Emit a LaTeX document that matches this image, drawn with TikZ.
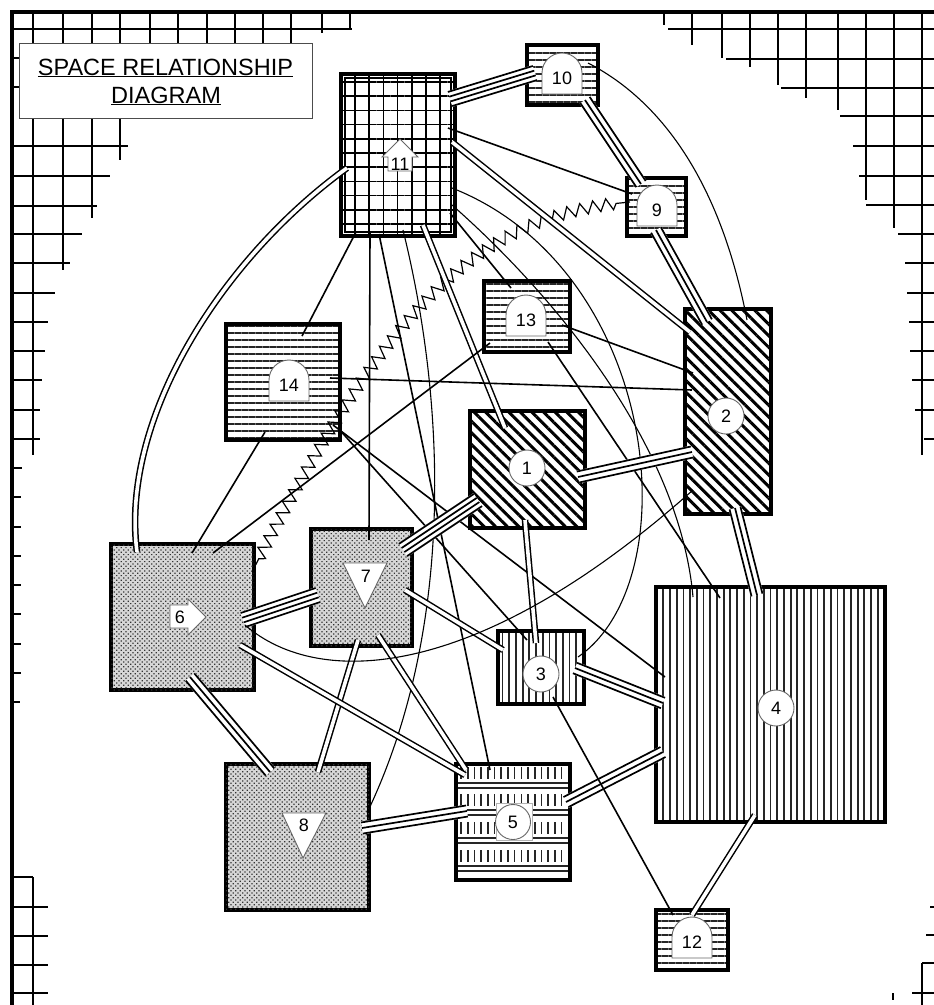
\documentclass[tikz,border=0pt]{standalone}
\usepackage{fontspec}
\setmainfont{Liberation Sans}
\usetikzlibrary{patterns.meta,decorations.pathmorphing,calc}
\newcommand\cp[5]{([shift={(#4-#2,#5-#3)}]#1.north west)}
\tikzset{
  box/.style={draw=black, inner sep=0pt, outer sep=0pt, anchor=north west},
  room/.style={box, #1, line width=3.2pt},
  hlines/.style={pattern={Lines[angle=0,distance=7pt,line width=1.6pt]}, pattern color=black!85},
  vlines/.style={pattern={Lines[angle=90,distance=6.7pt,line width=1.8pt]}, pattern color=black!85},
  dlines/.style={pattern={Lines[angle=-45,distance=8.2pt,line width=3pt]}, pattern color=black},
  gridpat/.style={pattern={Hatch[angle=0,distance=14.2pt,line width=1.6pt]}, pattern color=black},
  dotpat/.style={fill=black!16, postaction={pattern={Dots[angle=45,distance=3.3pt,radius=0.85pt]}, pattern color=black!80}},
  single/.style={line width=1.6pt},
  thinc/.style={line width=1.1pt},
  dbl/.style={double, double distance=3.6pt, line width=1.5pt},
  mline/.style={line width=1.7pt, line cap=butt},
  mband/.style={white, line width=#1, line cap=butt},
  zz/.style={decorate, decoration={zigzag, segment length=13pt, amplitude=6pt, pre length=14pt, post length=10pt}, line width=1.2pt},
  gridline/.style={line width=1.4pt},
  lab/.style={font=\fontsize{18}{20}\selectfont, inner sep=0pt},
  labshape/.style={fill=white, draw=black!60, line width=0.9pt},
}
\newcommand\mlines[4]{%
  \draw[mband=#1] (#3) -- (#4);
  \foreach \oo in {#2} {\draw[mline] ($(#3)!\oo pt!90:(#4)$) -- ($(#4)!\oo pt!-90:(#3)$);}}
\newcommand\tri[2]{\mlines{13pt}{-5.6,0,5.6}{#1}{#2}}
\newcommand\qua[2]{\mlines{16.4pt}{-7.35,-2.45,2.45,7.35}{#1}{#2}}
\newcommand\archlab[4]{%
  \path[labshape] (#2-20,#3+41) -- (#2-20,#3+20) arc[start angle=180,end angle=0,radius=20pt] -- (#2+20,#3+41) -- cycle;
  \node[lab] (#1) at (#2,#3+25) {#4};}
\begin{document}
\begin{tikzpicture}[x=1pt,y=-1pt]
\useasboundingbox (0,0) rectangle (934,1005);
% ---- corner grids
\foreach \x/\ya/\yb in {33/13/455, 63/13/270, 92/13/218, 120/13/160, 150/13/100, 178/13/100, 207/13/100, 235/13/100, 263/13/100, 291/13/100, 322/13/33, 350/13/28,
  664/13/25, 692/13/45, 722/13/58, 750/13/67, 778/13/85, 806/13/98, 838/13/110, 866/13/200, 894/13/228, 922/13/455,
  922/963/1005, 33/877/1005, 893/993/1000}
  \draw[gridline] (\x,\ya) -- (\x,\yb);
\foreach \y/\xa/\xb in {29/12/352, 58/12/300, 87/12/300, 146/12/128, 176/12/110, 206/12/97, 234/12/82, 263/12/70, 293/12/55, 322/12/48, 351/12/45, 380/12/42, 410/12/40, 439/12/40,
  468/12/22, 497/12/21, 527/12/21, 556/12/21, 585/12/21, 614/12/21, 644/12/21, 673/12/21, 702/12/20,
  877/12/33, 907/12/48, 936/12/48, 965/12/48, 993/12/48,
  29/668/934, 59/726/934, 88/781/934, 116/840/934, 146/853/934, 176/859/934, 205/866/934, 234/898/934, 263/905/934, 293/907/934, 322/909/934, 351/910/934, 380/912/934, 410/915/934, 439/924/934,
  907/930/934, 935/926/934, 963/922/934, 993/912/934}
  \draw[gridline] (\xa,\y) -- (\xb,\y);
\draw[line width=4pt] (11.5,1005) -- (11.5,11.5) -- (934,11.5);
% ---- title
\node[draw=black!70, fill=white, line width=1pt, inner sep=0pt, outer sep=0pt, anchor=north west, minimum width=293pt, minimum height=75pt] (title) at (19,43) {};
\node[anchor=base, font=\fontsize{23.5}{28}\selectfont, inner sep=0pt] (t1) at (165.5,75) {\underline{SPACE RELATIONSHIP}};
\node[anchor=base, font=\fontsize{23.5}{28}\selectfont, inner sep=0pt] (t2) at (166,103) {\underline{DIAGRAM}};
% ---- rooms
\node[room=gridpat, minimum width=114pt, minimum height=162pt] (n11) at (341,74) {};
\draw[line width=1.2pt] ([shift={(4,4)}]n11.north west) rectangle ([shift={(-4,-4)}]n11.south east);
\node[room=hlines, minimum width=71pt, minimum height=60pt] (n10) at (527,45) {};
\node[room=hlines, minimum width=59pt, minimum height=58pt] (n9) at (627,178) {};
\node[room=hlines, minimum width=86pt, minimum height=71pt] (n13) at (484,281) {};
\node[room=hlines, minimum width=114pt, minimum height=116pt] (n14) at (226,324) {};
\node[room=dlines, minimum width=86pt, minimum height=205pt] (n2) at (685,309) {};
\node[room=dlines, minimum width=115pt, minimum height=117pt] (n1) at (470,411) {};
\node[room=dotpat, minimum width=143pt, minimum height=146pt] (n6) at (111,544) {};
\node[room=dotpat, minimum width=101pt, minimum height=117pt] (n7) at (311,529) {};
\node[room=vlines, minimum width=86pt, minimum height=73pt] (n3) at (498,631) {};
\node[room=vlines, minimum width=229pt, minimum height=235pt] (n4) at (656,587) {};
\node[room=dotpat, minimum width=143pt, minimum height=146pt] (n8) at (226,764) {};
\node[room={fill=white}, minimum width=114pt, minimum height=116pt] (n5) at (456,764) {};
\foreach \yy in {767,794,822,850} {
  \foreach \xx in {461,467.7,...,566} \draw[line width=1.6pt, black!85] (\xx,\yy) -- (\xx,\yy+12);
  \draw[line width=1.5pt, black!85] (457,\yy+16) -- (569,\yy+16) (457,\yy+21) -- (569,\yy+21);
}
\draw[line width=3.2pt] (n5.north west) rectangle (n5.south east);
\node[room=hlines, minimum width=72pt, minimum height=60pt] (n12) at (656,910) {};
% ---- end points of the multi-line links
\coordinate (q1a) at ([shift={(450-341,99-74)}]n11.north west);
\coordinate (q1b) at ([shift={(535-527,73-45)}]n10.north west);
\coordinate (q2a) at ([shift={(403-311,550-529)}]n7.north west);
\coordinate (q2b) at ([shift={(478-470,500-411)}]n1.north west);
\coordinate (q3a) at ([shift={(243-111,620-544)}]n6.north west);
\coordinate (q3b) at ([shift={(318-311,595-529)}]n7.north west);
\coordinate (t1a) at ([shift={(585-527,100-45)}]n10.north west);
\coordinate (t1b) at ([shift={(641-627,184-178)}]n9.north west);
\coordinate (t2a) at ([shift={(656-627,230-178)}]n9.north west);
\coordinate (t2b) at ([shift={(707-685,322-309)}]n2.north west);
\coordinate (t3a) at ([shift={(578-470,477-411)}]n1.north west);
\coordinate (t3b) at ([shift={(692-685,452-309)}]n2.north west);
\coordinate (t4a) at ([shift={(735-685,508-309)}]n2.north west);
\coordinate (t4b) at ([shift={(757-656,595-587)}]n4.north west);
\coordinate (t5a) at ([shift={(575-498,668-631)}]n3.north west);
\coordinate (t5b) at ([shift={(663-656,703-587)}]n4.north west);
\coordinate (t6a) at ([shift={(566-456,802-764)}]n5.north west);
\coordinate (t6b) at ([shift={(663-656,752-587)}]n4.north west);
\coordinate (t7a) at ([shift={(190-111,677-544)}]n6.north west);
\coordinate (t7b) at ([shift={(270-226,772-764)}]n8.north west);
\coordinate (t8a) at ([shift={(362-226,828-764)}]n8.north west);
\coordinate (t8b) at ([shift={(467-456,811-764)}]n5.north west);
% ---- connectors
\qua{q1a}{q1b}
\tri{t1a}{t1b}
\draw[thinc] \cp{n10}{527}{45}{588}{63} .. controls (660,100) and (720,180) .. \cp{n2}{685}{309}{747}{320};
\draw[single] \cp{n11}{341}{74}{448}{128} -- \cp{n9}{627}{178}{632}{194};
\draw[zz] \cp{n9}{627}{178}{630}{202} .. controls (480,215) and (390,300) .. \cp{n6}{111}{544}{252}{572};
\tri{t2a}{t2b}
\draw[dbl] \cp{n11}{341}{74}{452}{142} -- \cp{n2}{685}{309}{690}{332};
\draw[single] \cp{n11}{341}{74}{450}{213} -- \cp{n13}{484}{281}{511}{288};
\draw[thinc] \cp{n11}{341}{74}{452}{188} .. controls (660,270) and (690,580) .. \cp{n3}{498}{631}{578}{657};
\draw[thinc] \cp{n11}{341}{74}{452}{205} .. controls (560,300) and (680,450) .. \cp{n4}{656}{587}{693}{597};
\draw[dbl] \cp{n11}{341}{74}{347}{168} .. controls (220,260) and (120,420) .. \cp{n6}{111}{544}{137}{552};
\draw[single] \cp{n11}{341}{74}{356}{232} -- \cp{n14}{226}{324}{302}{336};
\draw[single] \cp{n11}{341}{74}{370}{232} -- \cp{n7}{311}{529}{369}{540};
\draw[single] \cp{n11}{341}{74}{379}{234} -- \cp{n5}{456}{764}{490}{770};
\draw[thinc] \cp{n11}{341}{74}{403}{230} .. controls (450,420) and (450,640) .. \cp{n8}{226}{764}{367}{813};
\draw[dbl] \cp{n11}{341}{74}{423}{225} -- \cp{n1}{470}{411}{505}{428};
\draw[single] \cp{n14}{226}{324}{265}{432} -- \cp{n6}{111}{544}{192}{553};
\draw[single] \cp{n14}{226}{324}{330}{378} -- \cp{n2}{685}{309}{692}{390};
\draw[single] \cp{n14}{226}{324}{333}{425} -- \cp{n4}{656}{587}{665}{677};
\draw[single] \cp{n14}{226}{324}{338}{428} -- \cp{n3}{498}{631}{527}{640};
\draw[single] \cp{n13}{484}{281}{490}{343} -- \cp{n6}{111}{544}{213}{553};
\draw[single] \cp{n13}{484}{281}{562}{325} -- \cp{n2}{685}{309}{693}{373};
\draw[single] \cp{n13}{484}{281}{548}{342} -- \cp{n4}{656}{587}{720}{598};
\tri{t3a}{t3b}
\draw[dbl] \cp{n1}{470}{411}{525}{520} -- \cp{n3}{498}{631}{536}{643};
\qua{q2a}{q2b}
\tri{t4a}{t4b}
\tri{t5a}{t5b}
\tri{t6a}{t6b}
\draw[dbl] \cp{n4}{656}{587}{755}{815} -- \cp{n12}{656}{910}{692}{915};
\draw[single] \cp{n3}{498}{631}{553}{697} -- \cp{n12}{656}{910}{673}{915};
\qua{q3a}{q3b}
\tri{t7a}{t7b}
\draw[dbl] \cp{n7}{311}{529}{358}{640} -- \cp{n8}{226}{764}{318}{772};
\draw[dbl] \cp{n7}{311}{529}{378}{635} -- \cp{n5}{456}{764}{466}{770};
\draw[dbl] \cp{n6}{111}{544}{240}{645} -- \cp{n5}{456}{764}{465}{775};
\draw[dbl] \cp{n7}{311}{529}{405}{590} -- \cp{n3}{498}{631}{503}{650};
\tri{t8a}{t8b}
\draw[thinc] \cp{n6}{111}{544}{245}{625} .. controls (320,690) and (480,680) .. \cp{n2}{685}{309}{693}{490};
% ---- labels
\path[labshape] (388,171) -- (388,157) -- (382,157) -- (400,139) -- (418,157) -- (412,157) -- (412,171) -- cycle;
\node[lab] (c11) at (400,164.5) {11};
\archlab{c10}{562}{53}{10}
\archlab{c9}{657}{185}{9}
\archlab{c13}{526}{295}{13}
\archlab{c14}{289}{360}{14}
\archlab{c12}{692}{917}{12}
\node[circle, labshape, minimum size=36pt, lab] (c1) at (527,468) {1};
\node[circle, labshape, minimum size=36pt, lab] (c2) at (726,416) {2};
\node[circle, labshape, minimum size=36pt, lab] (c3) at (541,674) {3};
\node[circle, labshape, minimum size=36pt, lab] (c4) at (776,708) {4};
\path[fill=white, draw=black!30, line width=0.8pt] (496,803) rectangle (532,840);
\node[circle, labshape, minimum size=35pt, lab] (c5) at (513,822) {5};
\path[labshape] (343,563) -- (387,563) -- (365,608) -- cycle;
\node[lab] (c7) at (366,576) {7};
\path[labshape] (282,813) -- (326,813) -- (303,858) -- cycle;
\node[lab] (c8) at (304,825) {8};
\path[labshape] (170,605) -- (188,605) -- (188,599) -- (206,617) -- (188,635) -- (188,628) -- (170,628) -- cycle;
\node[lab] (c6) at (180,617) {6};
\end{tikzpicture}
\end{document}
